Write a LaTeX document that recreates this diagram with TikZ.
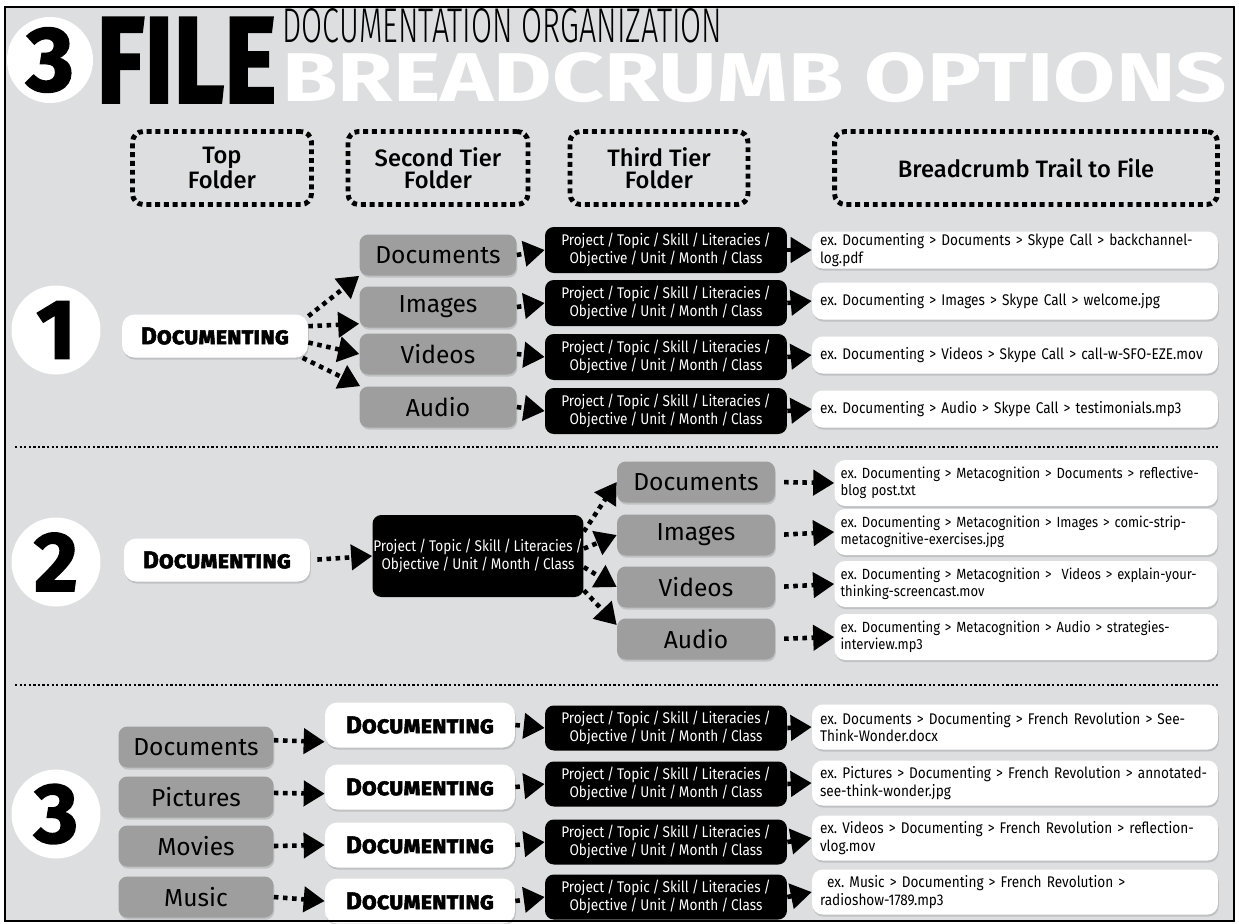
\documentclass[tikz,border=0pt]{standalone}
\usepackage{fontspec}
\setmainfont{Fira Sans}
\newfontfamily\heavyfont{Fira Sans}[BoldFeatures={FakeBold=2}]
\newfontfamily\narrowfont{Fira Sans}[FakeStretch=0.88, WordSpace=0.8]
\newfontfamily\thinfont{Fira Sans Light}
\newfontfamily\headfont{Fira Sans Medium}
\usetikzlibrary{arrows.meta,shadows}
\frenchspacing

\definecolor{bggrey}{RGB}{221,222,224}
\definecolor{boxgrey}{RGB}{158,158,158}

\newcommand{\tiertext}{Project / Topic / Skill / Literacies /\\Objective / Unit / Month / Class}

\tikzset{
  softshadow/.style={drop shadow={shadow xshift=0.5pt, shadow yshift=-1.2pt, opacity=0.3}},
  folder/.style={fill=boxgrey, rounded corners=5pt, softshadow, minimum width=3.14cm, minimum height=0.82cm, inner sep=0pt, font=\fontsize{14}{14}\selectfont},
  pathbox/.style={fill=black, text=white, rounded corners=5pt, minimum width=4.84cm, minimum height=0.92cm, inner sep=0pt, align=center, font=\narrowfont\fontsize{8.8}{10}\selectfont},
  topbox/.style={fill=white, rounded corners=7pt, softshadow, minimum width=3.72cm, minimum height=0.86cm, inner sep=0pt, font=\heavyfont\bfseries\scshape\fontsize{13.8}{13.8}\selectfont},
  trail/.style={fill=white, rounded corners=6pt, softshadow, minimum width=8.12cm, minimum height=0.74cm, inner xsep=0.16cm, inner ysep=0pt, text width=7.8cm, align=left, font=\narrowfont\fontsize{8.8}{10}\selectfont},
  headbox/.style={draw, line width=2.8pt, dash pattern=on 2.8pt off 2.2pt, rounded corners=6pt, minimum height=1.46cm, inner sep=0pt, align=center, font=\headfont\fontsize{13.5}{12.5}\selectfont},
  numcircle/.style={circle, fill=white, minimum size=1.78cm, inner sep=0pt, font=\heavyfont\bfseries\fontsize{48}{48}\selectfont},
  flow/.style={line width=2.6pt, dash pattern=on 2.6pt off 2.6pt, -{Triangle[length=0.42cm,width=0.5cm]}},
  divider/.style={line width=1.3pt, dash pattern=on 1.3pt off 1.3pt}
}

\begin{document}
\begin{tikzpicture}[x=0.02cm, y=-0.02cm]
\useasboundingbox (0,0) rectangle (1239,923);
\fill[white] (0,0) rectangle (1239,923);
\draw[line width=1.2pt, fill=bggrey] (5,7) rectangle (1234,921);

% title
\node[circle, fill=white, minimum size=1.72cm, inner sep=0pt] (titleNum) at (50,60) {\heavyfont\bfseries\fontsize{52}{52}\selectfont 3};
\node[anchor=south west, inner sep=0pt] (titleFile) at (96,103) {\resizebox{3.6cm}{1.7cm}{\heavyfont\bfseries FILE}};
\node[anchor=south west, inner sep=0pt] (titleSub) at (282,43) {\resizebox{8.8cm}{0.68cm}{\thinfont DOCUMENTATION ORGANIZATION}};
\node[anchor=south west, inner sep=0pt, text=white] (titleMain) at (282,103) {\resizebox{18.9cm}{0.98cm}{\bfseries BREADCRUMB OPTIONS}};

% column headers
\node[headbox, minimum width=3.58cm] (hTop) at (222,168) {Top\\Folder};
\node[headbox, minimum width=3.6cm] (hSecond) at (438,168) {Second Tier\\Folder};
\node[headbox, minimum width=3.56cm] (hThird) at (659,168) {Third Tier\\Folder};
\node[headbox, minimum width=7.66cm] (hTrail) at (1026,168) {Breadcrumb Trail to File};

% option 1
\node[numcircle] (num1) at (56,330) {1};
\node[topbox] (doc1) at (215,336) {Documenting};
\node[folder] (docs1) at (438,255) {Documents};
\node[folder] (img1) at (438,307) {Images};
\node[folder] (vid1) at (438,354) {Videos};
\node[folder] (aud1) at (438,407) {Audio};
\node[pathbox] (prj1a) at (666,250) {\tiertext};
\node[pathbox] (prj1b) at (666,303) {\tiertext};
\node[pathbox] (prj1c) at (666,357) {\tiertext};
\node[pathbox] (prj1d) at (666,411) {\tiertext};
\node[trail] (tr1a) at (1015,250) {ex. Documenting > Documents > Skype Call > backchannel-\\log.pdf};
\node[trail] (tr1b) at (1015,301) {ex. Documenting > Images > Skype Call > welcome.jpg};
\node[trail] (tr1c) at (1015,355) {ex. Documenting > Videos > Skype Call > call-w-SFO-EZE.mov};
\node[trail] (tr1d) at (1015,409) {ex. Documenting > Audio > Skype Call > testimonials.mp3};

\draw[flow] (doc1.12) -- (docs1.south west);
\draw[flow] (doc1.6) -- (img1.192);
\draw[flow] (doc1.-4) -- (vid1.west);
\draw[flow] (doc1.-14) -- (aud1.165);
\draw[flow] (docs1.east) -- (prj1a.west);
\draw[flow] (img1.east) -- (prj1b.west);
\draw[flow] (vid1.east) -- (prj1c.west);
\draw[flow] (aud1.east) -- (prj1d.west);
\draw[flow] (prj1a.east) -- (tr1a.west);
\draw[flow] (prj1b.east) -- (tr1b.west);
\draw[flow] (prj1c.east) -- (tr1c.west);
\draw[flow] (prj1d.east) -- (tr1d.west);

\draw[divider] (15,447) -- (1218,447);

% option 2
\node[numcircle] (num2) at (56,562) {2};
\node[topbox] (doc2) at (217,560) {Documenting};
\node[pathbox, minimum width=4.22cm, minimum height=1.64cm] (prj2) at (478,556) {\tiertext};
\node[folder, minimum width=3.16cm] (docs2) at (696,482) {Documents};
\node[folder, minimum width=3.16cm] (img2) at (696,535) {Images};
\node[folder, minimum width=3.16cm] (vid2) at (696,587) {Videos};
\node[folder, minimum width=3.16cm] (aud2) at (696,639) {Audio};
\node[trail, minimum width=7.66cm, inner xsep=0.12cm, text width=7.42cm, minimum height=0.92cm, font=\narrowfont\fontsize{8.4}{10}\selectfont] (tr2a) at (1026,483) {ex. Documenting > Metacognition > Documents > reflective-\\blog post.txt};
\node[trail, minimum width=7.66cm, inner xsep=0.12cm, text width=7.42cm, minimum height=0.92cm, font=\narrowfont\fontsize{8.4}{10}\selectfont] (tr2b) at (1026,532) {ex. Documenting > Metacognition > Images > comic-strip-\\metacognitive-exercises.jpg};
\node[trail, minimum width=7.66cm, inner xsep=0.12cm, text width=7.42cm, minimum height=0.92cm, font=\narrowfont\fontsize{8.4}{10}\selectfont] (tr2c) at (1026,584) {ex. Documenting > Metacognition > ~Videos > explain-your-\\thinking-screencast.mov};
\node[trail, minimum width=7.66cm, inner xsep=0.12cm, text width=7.42cm, minimum height=0.92cm, font=\narrowfont\fontsize{8.4}{10}\selectfont] (tr2d) at (1026,637) {ex. Documenting > Metacognition > Audio > strategies-\\interview.mp3};

\draw[flow, shorten <=4pt] (doc2.east) -- (prj2.west);
\draw[flow] (prj2.13) -- (docs2.west);
\draw[flow] (prj2.4) -- (img2.west);
\draw[flow] (prj2.-6) -- (vid2.west);
\draw[flow] (prj2.-18) -- (aud2.170);
\draw[flow, shorten <=5pt] (docs2.east) -- (tr2a.west);
\draw[flow, shorten <=5pt] (img2.east) -- (tr2b.west);
\draw[flow, shorten <=5pt] (vid2.east) -- (tr2c.west);
\draw[flow, shorten <=5pt] (aud2.east) -- (tr2d.west);

\draw[divider] (15,685) -- (1218,685);

% option 3
\node[numcircle] (num3) at (56,814) {3};
\node[folder, minimum width=3.1cm] (g3a) at (196,747) {Documents};
\node[folder, minimum width=3.1cm] (g3b) at (196,797) {Pictures};
\node[folder, minimum width=3.1cm] (g3c) at (196,846) {Movies};
\node[folder, minimum width=3.1cm] (g3d) at (196,897) {Music};
\node[topbox, minimum width=3.8cm, minimum height=0.9cm] (d3a) at (420,725) {Documenting};
\node[topbox, minimum width=3.8cm, minimum height=0.9cm] (d3b) at (420,787) {Documenting};
\node[topbox, minimum width=3.8cm, minimum height=0.9cm] (d3c) at (420,845) {Documenting};
\node[topbox, minimum width=3.8cm, minimum height=0.9cm] (d3d) at (420,901) {Documenting};
\node[pathbox, minimum height=0.9cm] (prj3a) at (666,728) {\tiertext};
\node[pathbox, minimum height=0.9cm] (prj3b) at (666,784) {\tiertext};
\node[pathbox, minimum height=0.9cm] (prj3c) at (666,842) {\tiertext};
\node[pathbox, minimum height=0.9cm] (prj3d) at (666,897) {\tiertext};
\node[trail, minimum height=0.9cm] (tr3a) at (1015,727) {ex. Documents > Documenting > French Revolution > See-\\Think-Wonder.docx};
\node[trail, minimum height=0.9cm] (tr3b) at (1015,783) {ex. Pictures > Documenting > French Revolution > annotated-\\see-think-wonder.jpg};
\node[trail, minimum height=0.9cm] (tr3c) at (1015,838) {ex. Videos > Documenting > French Revolution > reflection-\\vlog.mov};
\node[trail, minimum height=0.9cm] (tr3d) at (1015,892) {\hspace*{4pt}ex. Music > Documenting > French Revolution >\\radioshow-1789.mp3};

\draw[flow] (g3a.5) -- (d3a.190);
\draw[flow] (g3b.3) -- (d3b.184);
\draw[flow] (g3c.east) -- (d3c.west);
\draw[flow] (g3d.east) -- (d3d.west);
\draw[flow] (d3a.east) -- (prj3a.west);
\draw[flow] (d3b.east) -- (prj3b.west);
\draw[flow] (d3c.east) -- (prj3c.west);
\draw[flow] (d3d.east) -- (prj3d.west);
\draw[flow] (prj3a.east) -- (tr3a.west);
\draw[flow] (prj3b.east) -- (tr3b.west);
\draw[flow] (prj3c.east) -- (tr3c.west);
\draw[flow] (prj3d.east) -- (tr3d.west);

\draw[line width=1.2pt] (5,7) rectangle (1234,921);
\end{tikzpicture}
\end{document}
